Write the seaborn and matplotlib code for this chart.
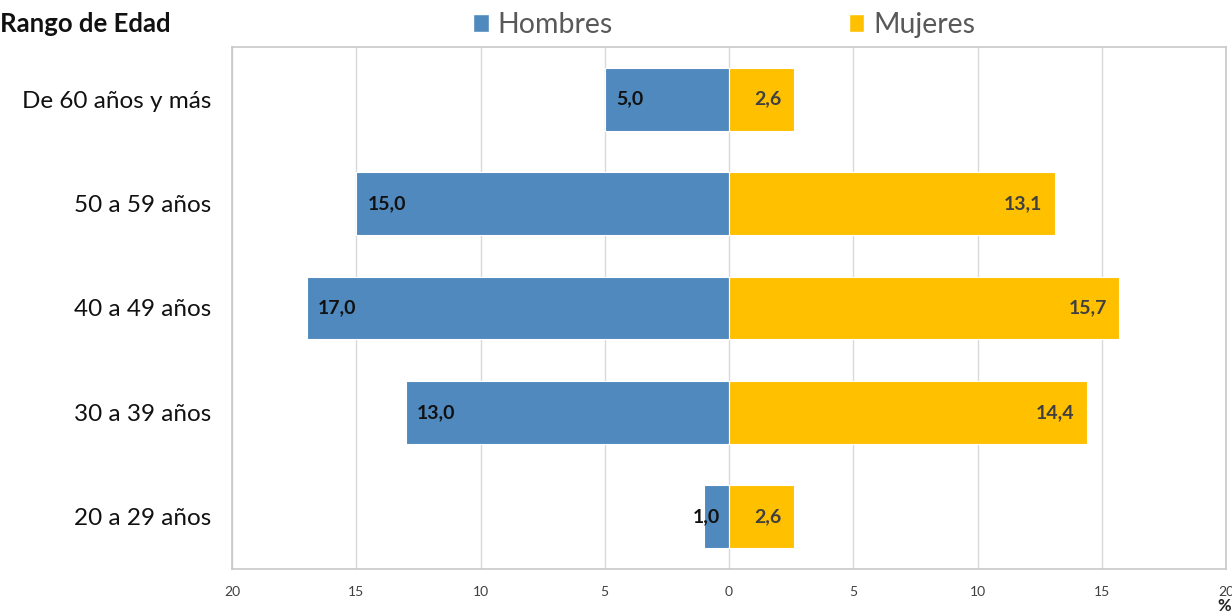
import matplotlib
matplotlib.use("Agg")
import matplotlib.pyplot as plt
import seaborn as sns
import pandas as pd
from matplotlib.patches import Patch

categorias = ["De 60 años y más", "50 a 59 años", "40 a 49 años", "30 a 39 años", "20 a 29 años"]
hombres = [5.0, 15.0, 17.0, 13.0, 1.0]
mujeres = [2.6, 13.1, 15.7, 14.4, 2.6]
ticks = [-20, -15, -10, -5, 0, 5, 10, 15, 20]
tick_labels = ["20", "15", "10", "5", "0", "5", "10", "15", "20"]

sns.set_theme(style="white")
plt.rcParams['font.family'] = ['Lato', 'DejaVu Sans']

azul = "#4F89BD"
amarillo = "#FFC000"

fig = plt.figure(figsize=(12.32, 6.14), dpi=100)
ax = fig.add_axes([232/1232, 1-569/614, (1226-232)/1232, (569-47)/614])

df_h = pd.DataFrame({"cat": categorias, "val": [-v for v in hombres]})
df_m = pd.DataFrame({"cat": categorias, "val": mujeres})
sns.barplot(data=df_h, x="val", y="cat", orient="h", color=azul, width=0.6,
            saturation=1, ax=ax, zorder=3)
sns.barplot(data=df_m, x="val", y="cat", orient="h", color=amarillo, width=0.6,
            saturation=1, ax=ax, zorder=3)
for p in ax.patches:
    p.set_edgecolor("white")
    p.set_linewidth(0.8)

ax.set_xlim(-20, 20)
ax.set_ylim(4.5, -0.5)
ax.set_xticks(ticks)
ax.set_xticklabels(tick_labels, fontsize=10, color="#404040")
ax.tick_params(axis="x", length=0, pad=12)
ax.tick_params(axis="y", length=0, pad=15, labelsize=17.5, labelcolor="#111111")
ax.set_xlabel("")
ax.set_ylabel("")
ax.grid(axis="x", color="#d9d9d9", linewidth=1, zorder=0)
ax.set_axisbelow(True)
for s in ax.spines.values():
    s.set_color("#c8c8c8")
    s.set_linewidth(1.2)

def fmt(v):
    return f"{v:.1f}".replace(".", ",")

for i, v in enumerate(hombres):
    if v < 3:
        ax.text(-0.35, i, fmt(v), ha="right", va="center", fontsize=14,
                fontweight="bold", color="#111111", zorder=5)
    else:
        ax.text(-v + 0.45, i, fmt(v), ha="left", va="center", fontsize=14,
                fontweight="bold", color="#111111", zorder=5)
for i, v in enumerate(mujeres):
    ax.text(v - 0.5, i, fmt(v), ha="right", va="center", fontsize=14,
            fontweight="bold", color="#404040", zorder=5)

fig.text(0.0, 1-24/614, "Rango de Edad", fontsize=18.5, fontweight="bold",
         color="#111111", ha="left", va="center")
fig.text(1224/1232, 8/614, "%", fontsize=12, fontweight="bold", color="#222222",
         ha="center", va="center")

handles = [Patch(facecolor=azul, label="Hombres"), Patch(facecolor=amarillo, label="Mujeres")]
fig.legend(handles=handles, loc="center", bbox_to_anchor=(724/1232, 1-25/614), ncol=2,
           frameon=False, fontsize=20.5, labelcolor="#595959", handlelength=0.55,
           handleheight=0.55, handletextpad=0.3, columnspacing=8.3)

fig.savefig("out.png", dpi=100)
